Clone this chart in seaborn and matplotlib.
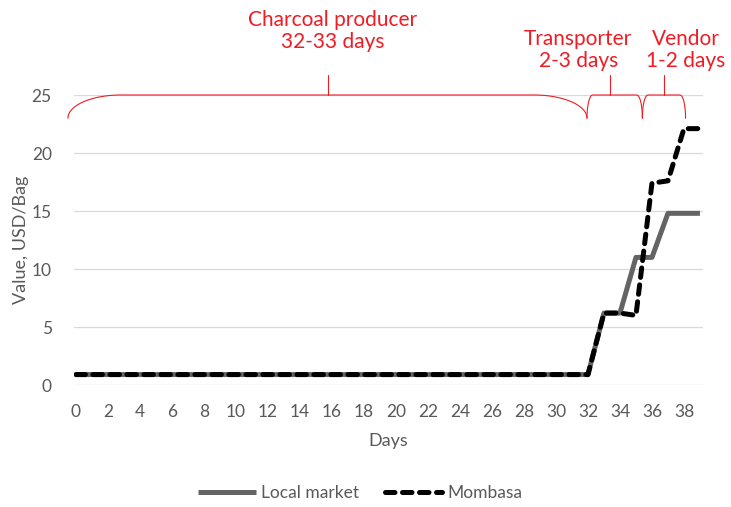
import numpy as np
import pandas as pd
import matplotlib.pyplot as plt
import seaborn as sns

# Data
days = list(range(40))
local_market = [0.9, 0.9, 0.9, 0.9, 0.9, 0.9, 0.9, 0.9, 0.9, 0.9,
                0.9, 0.9, 0.9, 0.9, 0.9, 0.9, 0.9, 0.9, 0.9, 0.9,
                0.9, 0.9, 0.9, 0.9, 0.9, 0.9, 0.9, 0.9, 0.9, 0.9,
                0.9, 0.9, 0.9, 6.2, 6.2, 11.0, 11.0, 14.8, 14.8, 14.8]
mombasa = [0.9, 0.9, 0.9, 0.9, 0.9, 0.9, 0.9, 0.9, 0.9, 0.9,
           0.9, 0.9, 0.9, 0.9, 0.9, 0.9, 0.9, 0.9, 0.9, 0.9,
           0.9, 0.9, 0.9, 0.9, 0.9, 0.9, 0.9, 0.9, 0.9, 0.9,
           0.9, 0.9, 0.9, 6.2, 6.2, 6.0, 17.4, 17.6, 22.1, 22.1]

# Stage brackets: (label, start day, end day, centre day)
stages = ['Charcoal producer\n32-33 days', 'Transporter\n2-3 days', 'Vendor\n1-2 days']
stage_start = [-0.5, 31.94, 35.4]
stage_end = [31.94, 35.4, 38.1]
stage_mid = [15.75, 33.4, 36.75]

df = pd.DataFrame({'day': days, 'Local market': local_market, 'Mombasa': mombasa})

sns.set_theme(style='white')
plt.rcParams['font.family'] = ['Lato', 'DejaVu Sans']

grey_txt = '#595959'
red = '#ee1c25'

fig = plt.figure(figsize=(7.31, 5.07), dpi=100)
ax = fig.add_axes([74 / 731, 122 / 507, 629 / 731, 290 / 507])

sns.lineplot(data=df, x='day', y='Local market', ax=ax, color='#646464',
             linewidth=3.6, label='Local market', solid_capstyle='butt')
sns.lineplot(data=df, x='day', y='Mombasa', ax=ax, color='black',
             linewidth=3.6, label='Mombasa', linestyle=(0, (1.9, 1.5)),
             dash_capstyle='round')

ax.set_xlim(-0.12, 39.19)
ax.set_ylim(0, 25)
ax.set_xticks(np.arange(0, 39, 2))
ax.set_yticks(np.arange(0, 26, 5))
ax.yaxis.grid(True, color='#d9d9d9', linewidth=0.9)
ax.set_axisbelow(True)
for s in ax.spines.values():
    s.set_visible(False)
ax.tick_params(axis='both', length=0, labelsize=12.5, colors=grey_txt)
ax.tick_params(axis='x', pad=14)
ax.tick_params(axis='y', pad=16)
ax.set_xlabel('Days', fontsize=13, color=grey_txt, labelpad=9)
ax.set_ylabel('Value, USD/Bag', fontsize=13, color=grey_txt, labelpad=2)

# Red brackets drawn above the plot
def bracket(x0, x1, xm, w, y0=23.0, y1=25.0):
    t = np.linspace(0, np.pi / 2, 30)
    lx = (x0 + w) - w * np.cos(t)
    ly = y0 + (y1 - y0) * np.sin(t)
    rx = (x1 - w) + w * np.cos(t[::-1])
    ry = y0 + (y1 - y0) * np.sin(t[::-1])
    xs = np.concatenate([lx, rx])
    ys = np.concatenate([ly, ry])
    ax.plot(xs, ys, color=red, linewidth=0.8, clip_on=False, zorder=5)
    ax.plot([xm, xm], [y1, 26.7], color=red, linewidth=0.8, clip_on=False, zorder=5)

bracket(stage_start[0], stage_end[0], stage_mid[0], 3.3)
bracket(stage_start[1], stage_end[1], stage_mid[1], 0.35)
bracket(stage_start[2], stage_end[2], stage_mid[2], 0.35)

ax.text(16.05, 30.5, stages[0], ha='center', va='center', color=red,
        fontsize=15, linespacing=1.15, clip_on=False)
ax.text(31.4, 28.9, stages[1], ha='center', va='center', color=red,
        fontsize=15, linespacing=1.15, clip_on=False)
ax.text(38.1, 28.9, stages[2], ha='center', va='center', color=red,
        fontsize=15, linespacing=1.15, clip_on=False)

ax.get_legend().remove()
handles, labels = ax.get_legend_handles_labels()
fig.legend(handles, labels, loc='center', bbox_to_anchor=(0.493, 14 / 507), ncol=2,
           frameon=False, fontsize=12.5, handlelength=3.3, handletextpad=0.3,
           columnspacing=1.5, labelcolor=grey_txt)

fig.savefig('out.png', dpi=100)
